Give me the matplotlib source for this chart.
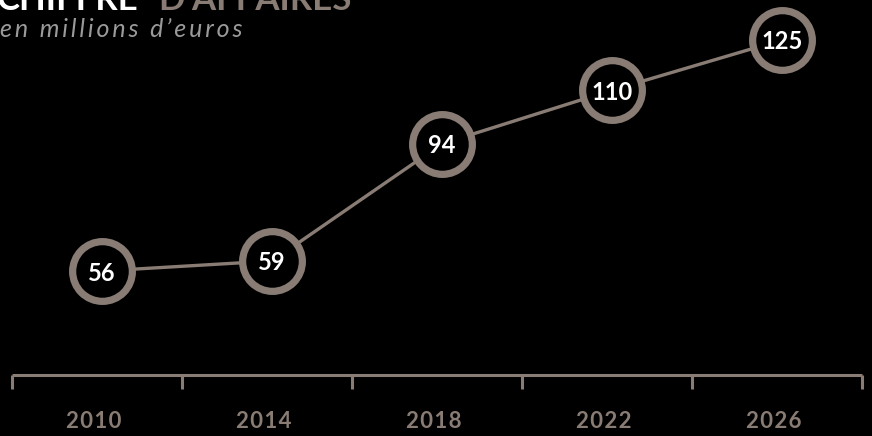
import matplotlib
matplotlib.use("Agg")
import matplotlib.pyplot as plt

# Chart data
years = ["2010", "2014", "2018", "2022", "2026"]
revenue = [56, 59, 94, 110, 125]
title_white = "CHIFFRE"
title_brown = "D\u2019AFFAIRES"
subtitle = "en millions d\u2019euros"

brown = "#887c74"
plt.rcParams["font.family"] = ["Lato", "DejaVu Sans"]

fig = plt.figure(figsize=(8.72, 4.36), dpi=100, facecolor="black")
ax = fig.add_axes([0, 0, 1, 1])
ax.set_facecolor("black")
ax.set_xlim(-0.0706, 5.0588)
ax.set_ylim(6.75, 136.9)
ax.axis("off")

xs = [i + 0.53 for i in range(len(years))]

# baseline axis with ticks
ax.plot([0, len(years)], [25, 25], color=brown, lw=2.2, solid_capstyle="butt")
for i in range(len(years) + 1):
    ax.plot([i, i], [25, 20.8], color=brown, lw=2.2, solid_capstyle="butt")

# line + circles
ax.plot(xs, revenue, color=brown, lw=2.4, zorder=2)
ax.plot(xs, revenue, "o", markersize=43, markerfacecolor="black",
        markeredgecolor=brown, markeredgewidth=5.2, zorder=3)
for x, v in zip(xs, revenue):
    ax.text(x, v, str(v), color="white", fontsize=17, fontweight="bold",
            ha="center", va="center_baseline", zorder=4)

# spaced-out year labels
for x, y in zip(xs, years):
    ax.text(x - 0.05, 11.2, "\u200a".join(y), color=brown, fontsize=16,
            fontweight="bold", ha="center", va="center",
            family=["Lato", "DejaVu Sans"])

# title (partly cut by the top edge, as in the original) and subtitle
fig.text(-0.004, 1 - 10 / 436, title_white, color="white", fontsize=25,
         fontweight="bold", ha="left", va="baseline")
fig.text(158 / 872, 1 - 10 / 436, title_brown, color=brown, fontsize=25,
         fontweight="bold", ha="left", va="baseline")
fig.text(0, 1 - 37 / 436, "\u2009".join(subtitle), color="#9a9a9a",
         fontsize=18, style="italic", ha="left", va="baseline",
         family=["Lato", "DejaVu Sans"])

fig.savefig("out.png", dpi=100, facecolor="black")
